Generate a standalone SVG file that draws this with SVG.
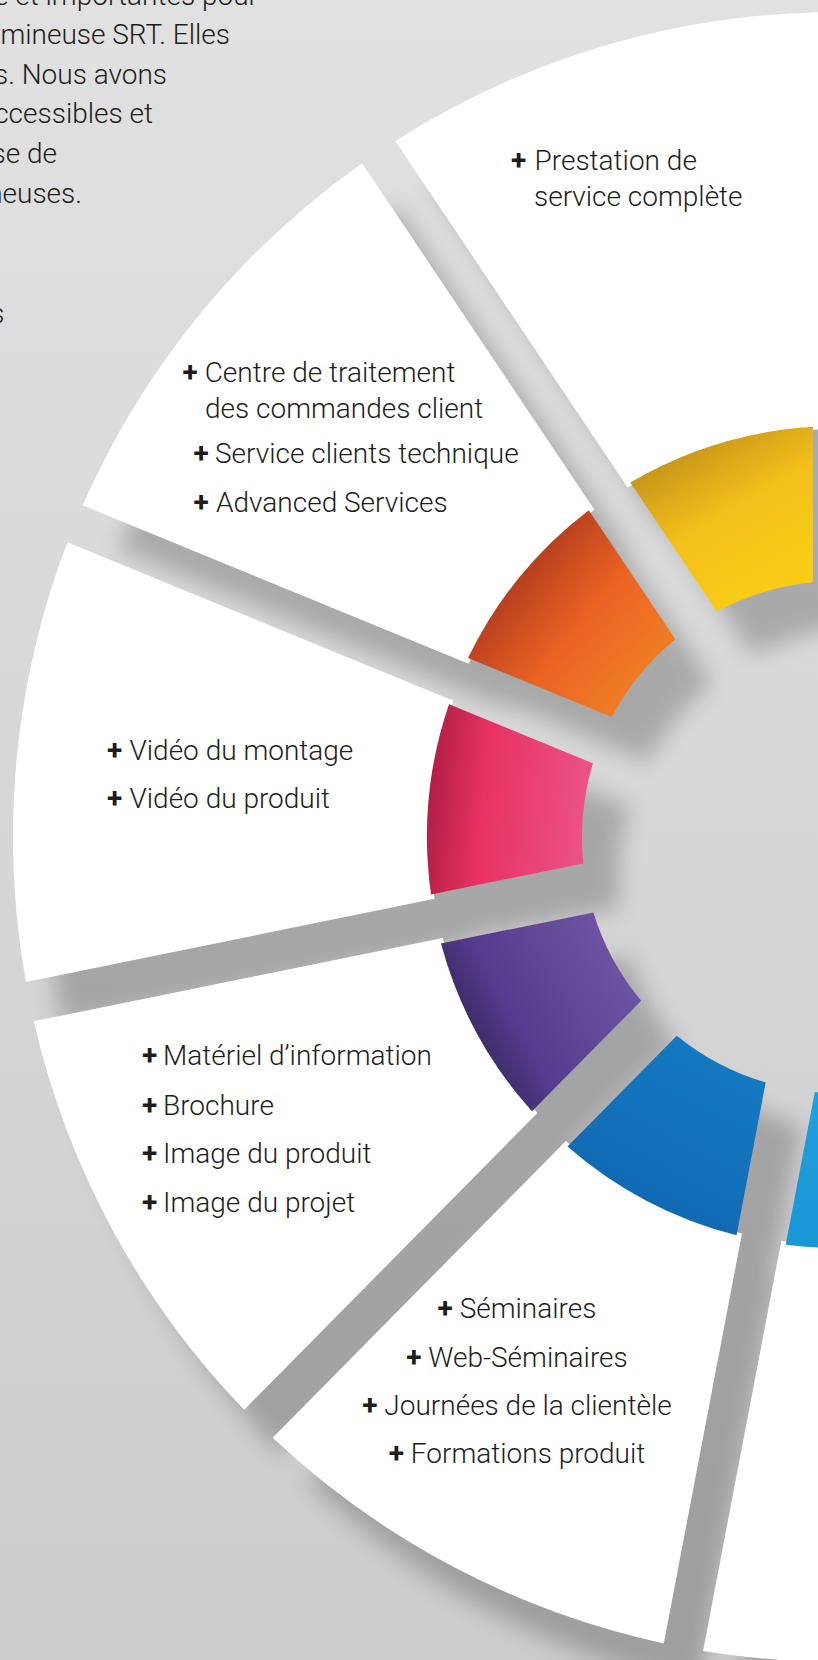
<svg xmlns="http://www.w3.org/2000/svg" width="818" height="1660" viewBox="0 0 818 1660">
<defs>
<linearGradient id="bg" x1="0" y1="0" x2="0" y2="1"><stop offset="0" stop-color="#e1e1e1"/><stop offset="1" stop-color="#cccccc"/></linearGradient>
<filter id="sh" x="-20%" y="-20%" width="140%" height="140%" color-interpolation-filters="sRGB"><feDropShadow dx="36" dy="44" stdDeviation="11" flood-color="#000" flood-opacity="0.22"/></filter>
<linearGradient id="gY" gradientUnits="userSpaceOnUse" x1="690" y1="445" x2="775" y2="590"><stop offset="0" stop-color="#c8961a"/><stop offset="0.45" stop-color="#f4bf1b"/><stop offset="1" stop-color="#f9cd16"/></linearGradient>
<linearGradient id="gO" gradientUnits="userSpaceOnUse" x1="519.7" y1="577" x2="639.7" y2="675.1"><stop offset="0" stop-color="#b83f1e"/><stop offset="0.5" stop-color="#ea6324"/><stop offset="1" stop-color="#ef7c25"/></linearGradient>
<linearGradient id="gP" gradientUnits="userSpaceOnUse" x1="428.8" y1="798.3" x2="583.1" y2="812.9"><stop offset="0" stop-color="#b31e47"/><stop offset="0.35" stop-color="#e73262"/><stop offset="1" stop-color="#ec5185"/></linearGradient>
<linearGradient id="gV" gradientUnits="userSpaceOnUse" x1="476.6" y1="1032.9" x2="612.9" y2="959"><stop offset="0" stop-color="#3e2d6a"/><stop offset="0.25" stop-color="#553b8d"/><stop offset="1" stop-color="#6b53a1"/></linearGradient>
<linearGradient id="gB" gradientUnits="userSpaceOnUse" x1="646.8" y1="1200.8" x2="718.9" y2="1063.6"><stop offset="0" stop-color="#106ab3"/><stop offset="1" stop-color="#1479c1"/></linearGradient>
<linearGradient id="gL" gradientUnits="userSpaceOnUse" x1="880" y1="1230" x2="860" y2="1085"><stop offset="0" stop-color="#1a97d6"/><stop offset="1" stop-color="#20a0dc"/></linearGradient>
</defs>
<style>
.w{fill:#ffffff}
.t{font-family:Roboto,"Liberation Sans",sans-serif;font-size:28px;font-weight:300;fill:#1d1d1b}
.p{font-weight:700}
</style>
<rect x="0" y="0" width="818" height="1660" fill="url(#bg)"/>
<g id="intro-text" class="t">
<text x="258" y="5" text-anchor="end">e et importantes pour</text>
<text x="230" y="44" text-anchor="end">mineuse SRT. Elles</text>
<text x="167" y="83.5" text-anchor="end">s. Nous avons</text>
<text x="153" y="123" text-anchor="end">ccessibles et</text>
<text x="57" y="163" text-anchor="end">se de</text>
<text x="82" y="203" text-anchor="end">neuses.</text>
<text x="4.5" y="323" text-anchor="end">s</text>
</g>
<g id="connectors"/>
<g id="node-1">
<g filter="url(#sh)">
<path class="w" d="M818 429.49 L818 12.24 A825 825 0 0 0 395.30 140.90 L627.67 487.42 A408 408 0 0 1 818 429.49 Z"/>
<path fill="url(#gY)" d="M813 582.22 L813 426.76 A411 411 0 0 0 630.30 482.38 L716.87 611.49 A256 256 0 0 1 813 582.22 Z"/>
</g>
<text class="t" y="170"><tspan class="p" x="511">+</tspan><tspan x="534.5">Prestation de</tspan></text>
<text class="t" x="534" y="206">service complète</text>
</g>
<g id="node-2">
<g filter="url(#sh)">
<path class="w" d="M594.45 509.70 L362.08 163.18 A825 825 0 0 0 82.61 505.26 L468.61 663.73 A408 408 0 0 1 594.45 509.70 Z"/>
<path fill="url(#gO)" d="M675.35 639.33 L588.78 510.22 A411 411 0 0 0 467.99 658.06 L611.80 717.11 A256 256 0 0 1 675.35 639.33 Z"/>
</g>
<text class="t" y="381.7"><tspan class="p" x="182.5">+</tspan><tspan x="204.7">Centre de traitement</tspan></text>
<text class="t" x="205" y="418.3">des commandes client</text>
<text class="t" y="463.3"><tspan class="p" x="193.5">+</tspan><tspan x="215">Service clients technique</tspan></text>
<text class="t" y="511.7"><tspan class="p" x="193.5">+</tspan><tspan x="216">Advanced Services</tspan></text>
</g>
<g id="node-3">
<g filter="url(#sh)">
<path class="w" d="M453.41 700.73 L67.41 542.26 A825 825 0 0 0 25.83 982.10 L434.69 898.78 A408 408 0 0 1 453.41 700.73 Z"/>
<path fill="url(#gP)" d="M592.80 763.37 L448.99 704.32 A411 411 0 0 0 431.02 894.42 L583.35 863.38 A256 256 0 0 1 592.80 763.37 Z"/>
</g>
<text class="t" y="760"><tspan class="p" x="107">+</tspan><tspan x="129.5">Vidéo du montage</tspan></text>
<text class="t" y="808.3"><tspan class="p" x="107">+</tspan><tspan x="129.5">Vidéo du produit</tspan></text>
</g>
<g id="node-4">
<g filter="url(#sh)">
<path class="w" d="M442.67 937.98 L33.81 1021.30 A825 825 0 0 0 244.21 1409.77 L537.41 1112.89 A408 408 0 0 1 442.67 937.98 Z"/>
<path fill="url(#gV)" d="M593.33 912.38 L441.00 943.42 A411 411 0 0 0 531.93 1111.32 L641.18 1000.70 A256 256 0 0 1 593.33 912.38 Z"/>
</g>
<text class="t" y="1065"><tspan class="p" x="142">+</tspan><tspan x="163">Matériel d’information</tspan></text>
<text class="t" y="1115"><tspan class="p" x="142">+</tspan><tspan x="163">Brochure</tspan></text>
<text class="t" y="1163.3"><tspan class="p" x="142">+</tspan><tspan x="163">Image du produit</tspan></text>
<text class="t" y="1211.7"><tspan class="p" x="142">+</tspan><tspan x="163">Image du projet</tspan></text>
</g>
<g id="node-5">
<g filter="url(#sh)">
<path class="w" d="M565.87 1140.99 L272.67 1437.87 A825 825 0 0 0 663.79 1643.41 L741.98 1233.55 A408 408 0 0 1 565.87 1140.99 Z"/>
<path fill="url(#gB)" d="M676.76 1035.84 L567.51 1146.46 A411 411 0 0 0 736.56 1235.29 L765.69 1082.58 A256 256 0 0 1 676.76 1035.84 Z"/>
</g>
<text class="t" x="517" y="1318.3" text-anchor="middle"><tspan class="p">+</tspan> Séminaires</text>
<text class="t" x="517" y="1366.7" text-anchor="middle"><tspan class="p">+</tspan> Web-Séminaires</text>
<text class="t" x="517" y="1415" text-anchor="middle"><tspan class="p">+</tspan> Journées de la clientèle</text>
<text class="t" x="517" y="1463.3" text-anchor="middle"><tspan class="p">+</tspan> Formations produit</text>
</g>
<g id="node-6">
<g filter="url(#sh)">
<path class="w" d="M781.28 1241.05 L703.09 1650.91 A825 825 0 0 0 1142.41 1603.77 L979.10 1219.82 A408 408 0 0 1 781.28 1241.05 Z"/>
<path fill="url(#gL)" d="M814.81 1091.96 L785.68 1244.67 A411 411 0 0 0 975.56 1224.29 L914.71 1081.24 A256 256 0 0 1 814.81 1091.96 Z"/>
</g>
</g>
</svg>
